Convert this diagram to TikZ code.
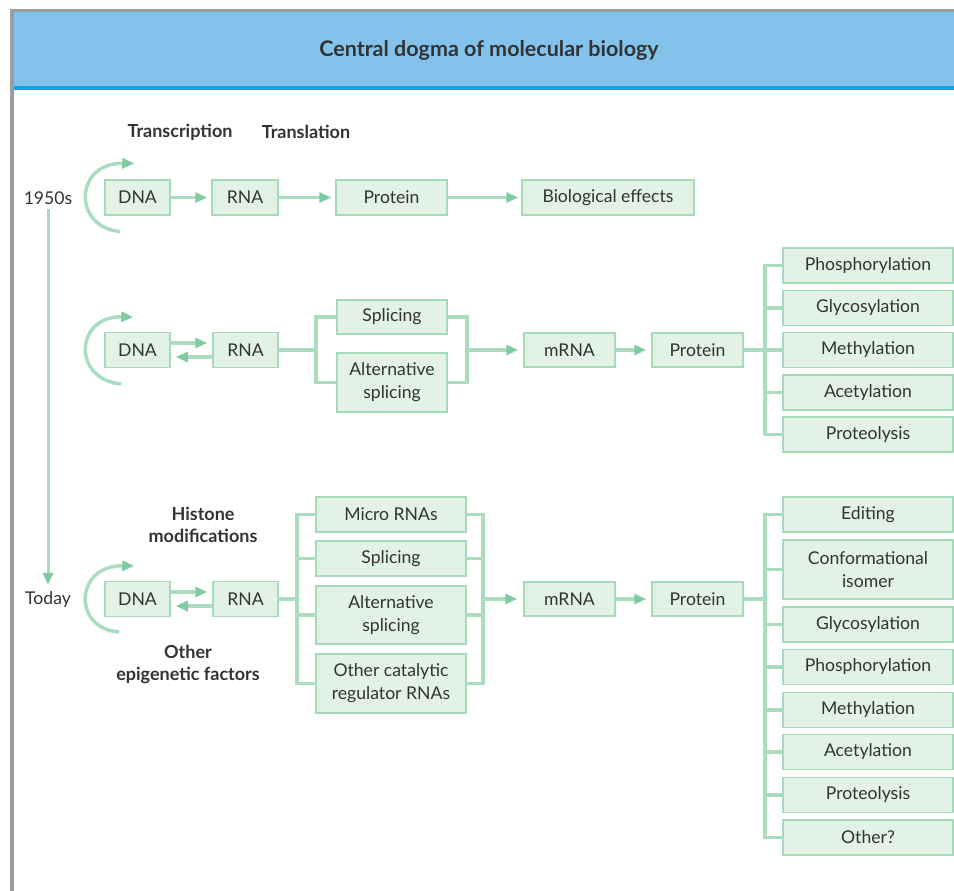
\documentclass[tikz,border=0pt]{standalone}
\usepackage{fontspec}
\setmainfont{Lato}
\usetikzlibrary{arrows.meta,calc}
\definecolor{boxfill}{HTML}{E2F2E7}
\definecolor{boxline}{HTML}{A6DBBA}
\definecolor{connc}{HTML}{AADDBF}
\definecolor{headc}{HTML}{80CCA2}
\definecolor{txt}{HTML}{333333}
\definecolor{hdr}{HTML}{82C2EB}
\definecolor{hdrline}{HTML}{0AA6E0}
\definecolor{framec}{HTML}{9D9D9F}
\begin{document}
\begin{tikzpicture}[x=1pt,y=-1pt,
  box/.style={draw=boxline, fill=boxfill, line width=1.5pt, inner sep=0pt, align=center,
    text=txt, font=\fontsize{17.6}{23}\selectfont},
  lbl/.style={text=txt, inner sep=0pt, align=center, font=\fontsize{17.6}{23}\selectfont},
  blbl/.style={text=txt, inner sep=0pt, align=center, font=\fontsize{18}{22}\selectfont\bfseries},
  conn/.style={draw=connc, line width=3.5pt, line cap=rect, line join=miter},
  arr/.style={draw=connc, line width=3.5pt, -{Triangle[length=12pt,width=10pt,color=headc]}},
  w65/.style={minimum width=65pt, minimum height=35pt},
  rbox/.style={box, minimum width=170pt, minimum height=35pt},
  cbox/.style={box, minimum width=150pt, minimum height=35pt},
]
\useasboundingbox (0,0) rectangle (954,891);
% frame and header
\fill[hdr] (14,12) rectangle (954,86);
\fill[hdrline] (14,86) rectangle (954,90);
\fill[framec] (10,9) rectangle (954,12.5);
\fill[framec] (10,9) rectangle (14,891);
\node[text=txt, font=\fontsize{21.5}{25}\selectfont\bfseries] (title) at (489,50) {Central dogma of molecular biology};

% timeline
\node[lbl] (y1950) at (48,198) {1950s};
\node[lbl] (today) at (48,600) {Today};
\draw[arr, line width=3pt, shorten <=4pt, shorten >=7pt] (y1950.south) -- (today.north);

% ---------- row 1 ----------
\node[blbl] (transc) at (180,132) {Transcription};
\node[blbl] (transl) at (306,132) {Translation};
\node[box, w65] (dna1) at (137.5,197.5) {DNA};
\node[box, minimum width=66pt, minimum height=35pt] (rna1) at (245,197.5) {RNA};
\node[box, minimum width=111pt, minimum height=35pt] (prot1) at (391.5,197.5) {Protein};
\node[box, minimum width=172pt, minimum height=35pt] (bio1) at (608,197.5) {Biological effects};
\draw[arr, shorten >=4pt] (dna1) -- (rna1);
\draw[arr, shorten >=4pt] (rna1) -- (prot1);
\draw[arr, shorten >=3pt] (prot1) -- (bio1);
\draw[arr] ($(dna1.west)+(16,34)$) .. controls ($(dna1.west)+(-32,30)$) and ($(dna1.west)+(-30,-35)$) .. ($(dna1.west)+(30,-34)$);

% ---------- row 2 ----------
\node[box, w65] (dna2) at (137.5,350) {DNA};
\node[box, w65] (rna2) at (245.5,350) {RNA};
\node[box, minimum width=110pt, minimum height=34pt] (spl2) at (392,317) {Splicing};
\node[box, minimum width=110pt, minimum height=59pt] (alt2) at (392,382.5) {Alternative\\splicing};
\node[box, minimum width=91pt, minimum height=34pt] (mrna2) at (569.5,350) {mRNA};
\node[box, minimum width=91pt, minimum height=34pt] (prot2) at (697.5,350) {Protein};
\node[rbox] (phos2) at (868,265.5) {Phosphorylation};
\node[rbox] (glyc2) at (868,308) {Glycosylation};
\node[rbox] (meth2) at (868,350) {Methylation};
\node[rbox] (acet2) at (868,392.5) {Acetylation};
\node[rbox] (prtl2) at (868,434.5) {Proteolysis};
\draw[arr, shorten >=5pt] ([yshift=7pt]dna2.east) -- ([yshift=7pt]rna2.west);
\draw[arr, shorten >=5pt] ([yshift=-7pt]rna2.west) -- ([yshift=-7pt]dna2.east);
\draw[arr] ($(dna2.west)+(17,34)$) .. controls ($(dna2.west)+(-32,30)$) and ($(dna2.west)+(-30,-34)$) .. ($(dna2.west)+(29,-33)$);
\coordinate (b2l) at (316,350);
\coordinate (b2r) at (467,350);
\coordinate (b2p) at (765,350);
\draw[conn] (rna2.east) -- (b2l);
\draw[conn] (spl2.west) -| (b2l);
\draw[conn] (alt2.west) -| (b2l);
\draw[conn] (spl2.east) -| (b2r);
\draw[conn] (alt2.east) -| (b2r);
\draw[arr, shorten >=5pt] (b2r) -- (mrna2.west);
\draw[arr, shorten >=5pt] (mrna2) -- (prot2);
\draw[conn] (prot2.east) -- (b2p);
\foreach \n in {phos2,glyc2,meth2,acet2,prtl2} \draw[conn] (\n.west) -| (b2p);

% ---------- row 3 ----------
\node[blbl] (histone) at (203,525) {Histone\\modifications};
\node[blbl] (epi) at (188,664) {Other\\epigenetic factors};
\node[box, w65] (dna3) at (137.5,599) {DNA};
\node[box, w65] (rna3) at (245.5,599) {RNA};
\node[cbox] (micro3) at (391,514.5) {Micro RNAs};
\node[cbox] (spl3) at (391,558.5) {Splicing};
\node[cbox, minimum height=58pt] (alt3) at (391,615) {Alternative\\splicing};
\node[cbox, minimum height=59pt] (oth3) at (391,683.5) {Other catalytic\\regulator RNAs};
\node[box, minimum width=91pt, minimum height=34pt] (mrna3) at (569.5,599) {mRNA};
\node[box, minimum width=91pt, minimum height=34pt] (prot3) at (697.5,599) {Protein};
\node[rbox] (edit3) at (868,514.5) {Editing};
\node[rbox, minimum height=59pt] (conf3) at (868,569.5) {Conformational\\isomer};
\node[rbox] (glyc3) at (868,624.5) {Glycosylation};
\node[rbox] (phos3) at (868,667) {Phosphorylation};
\node[rbox] (meth3) at (868,710) {Methylation};
\node[rbox] (acet3) at (868,752) {Acetylation};
\node[rbox] (prtl3) at (868,795) {Proteolysis};
\node[rbox] (othr3) at (868,837.5) {Other?};
\draw[arr, shorten >=5pt] ([yshift=7pt]dna3.east) -- ([yshift=7pt]rna3.west);
\draw[arr, shorten >=5pt] ([yshift=-7pt]rna3.west) -- ([yshift=-7pt]dna3.east);
\draw[arr] ($(dna3.west)+(15,33)$) .. controls ($(dna3.west)+(-32,30)$) and ($(dna3.west)+(-30,-34)$) .. ($(dna3.west)+(30,-33)$);
\coordinate (b3l) at (297,599);
\coordinate (b3r) at (483,599);
\coordinate (b3p) at (765,599);
\draw[conn] (rna3.east) -- (b3l);
\foreach \n in {micro3,spl3,alt3,oth3} {
  \draw[conn] (\n.west) -| (b3l);
  \draw[conn] (\n.east) -| (b3r);
}
\draw[arr, shorten >=6pt] (b3r) -- (mrna3.west);
\draw[arr, shorten >=5pt] (mrna3) -- (prot3);
\draw[conn] (prot3.east) -- (b3p);
\foreach \n in {edit3,conf3,glyc3,phos3,meth3,acet3,prtl3,othr3} \draw[conn] (\n.west) -| (b3p);
\end{tikzpicture}
\end{document}
